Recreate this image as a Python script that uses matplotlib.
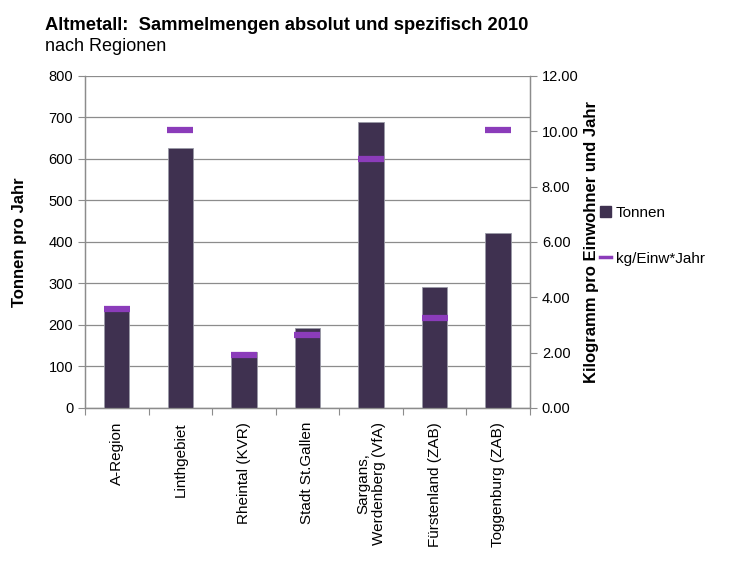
import matplotlib
matplotlib.use("Agg")
import matplotlib.pyplot as plt
from matplotlib.lines import Line2D
from matplotlib.patches import Patch
import numpy as np

plt.rcParams["font.family"] = ["Liberation Sans", "DejaVu Sans"]

# ─── Data ─────────────────────────────────────────────
regions = [
    "A-Region",
    "Linthgebiet",
    "Rheintal (KVR)",
    "Stadt St.Gallen",
    "Sargans,\nWerdenberg (VfA)",
    "Fürstenland (ZAB)",
    "Toggenburg (ZAB)",
]
tonnen = [246, 627, 135, 192, 689, 292, 422]
kg_einw = [3.57, 10.06, 1.93, 2.64, 8.99, 3.26, 10.06]

# ─── Colors ───────────────────────────────────────────
BAR = "#3f3150"
MARK = "#8b3cba"
GRID = "#8c8c8c"

fig = plt.figure(figsize=(7.56, 5.65), dpi=100)
ax = fig.add_axes([0.1124, 0.2779, 0.5886, 0.5876])
ax2 = ax.twinx()

x = np.arange(len(regions))
ax.bar(x, tonnen, width=0.4, color=BAR, edgecolor="#9a9aa6", linewidth=0.6, zorder=3)
ax2.plot(x, kg_einw, linestyle="none", marker="_", markersize=19,
         markeredgewidth=4.5, color=MARK, zorder=4)

ax.set_xlim(-0.5, len(regions) - 0.5)
ax.set_ylim(0, 800)
ax.set_yticks(range(0, 801, 100))
ax2.set_ylim(0, 12)
ax2.set_yticks(np.arange(0, 12.1, 2))
ax2.set_yticklabels([f"{v:.2f}" for v in np.arange(0, 12.1, 2)])

ax.yaxis.grid(True, color=GRID, linewidth=0.9, zorder=0)
ax.set_axisbelow(True)

# category ticks between bars
ax.set_xticks(np.arange(-0.5, len(regions), 1))
ax.set_xticklabels([])
ax.set_xticks(x, minor=True)
ax.set_xticklabels(regions, minor=True, rotation=90, fontsize=11)
ax.tick_params(axis="x", which="minor", length=0, pad=10)
ax.tick_params(axis="x", which="major", length=5, color=GRID, direction="out")
ax.tick_params(axis="y", length=5, color=GRID, labelsize=10.5, direction="out")
ax2.tick_params(axis="y", length=5, color=GRID, labelsize=10.5, direction="out")

for a in (ax, ax2):
    a.spines["top"].set_visible(False)
    for s in ("left", "right", "bottom"):
        a.spines[s].set_color(GRID)
        a.spines[s].set_linewidth(0.9)

ax.set_ylabel("Tonnen pro Jahr", fontsize=12, fontweight="bold")
ax.yaxis.set_label_coords(-0.13, 0.5)
ax2.set_ylabel("Kilogramm pro Einwohner und Jahr", fontsize=12, fontweight="bold")
ax2.yaxis.set_label_coords(1.121, 0.5)

fig.text(0.06, 0.955, "Altmetall:  Sammelmengen absolut und spezifisch 2010",
         fontsize=13.2, fontweight="bold", va="center")
fig.text(0.06, 0.918, "nach Regionen", fontsize=13, va="center")

handles = [
    Patch(facecolor=BAR, edgecolor=BAR),
    Line2D([0], [0], color=MARK, linewidth=2.5),
]
fig.legend(handles, ["Tonnen", "kg/Einw*Jahr"], loc="center left",
           bbox_to_anchor=(0.776, 0.583), frameon=False, fontsize=11,
           handlelength=0.7, handletextpad=0.3, labelspacing=2.1)

fig.savefig("out.png", dpi=100)
